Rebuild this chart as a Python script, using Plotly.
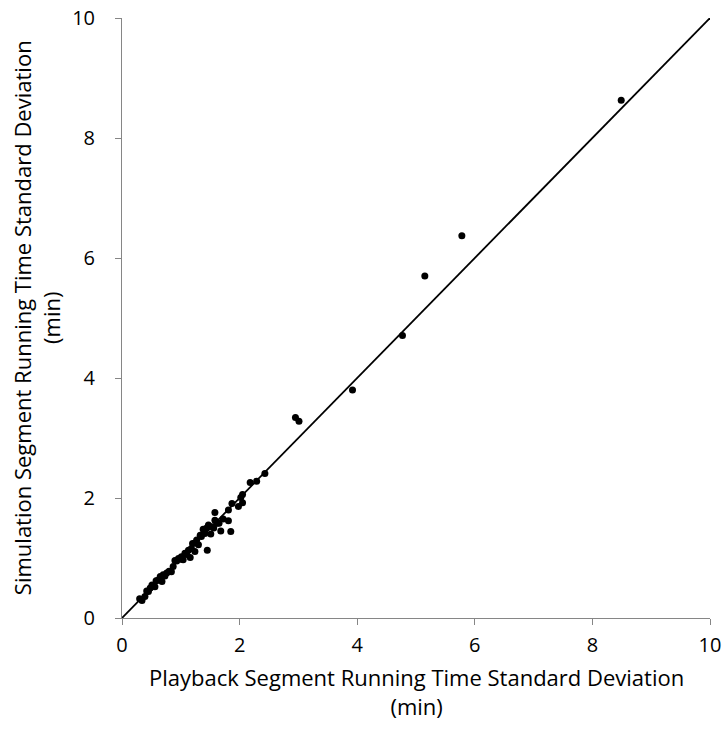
import plotly.graph_objects as go

# Playback vs simulation segment running time standard deviation (min)
playback_sd = [
    8.49, 5.78, 5.15, 4.77, 3.92, 2.95, 3.01, 2.43, 2.29, 2.18, 2.05, 2.02, 2.05,
    1.98, 1.87, 1.81, 1.58, 1.81, 1.85, 1.68, 1.65, 1.58, 1.53, 1.44, 1.38, 1.51,
    1.41, 1.27, 1.24, 1.30, 1.45, 1.18, 1.13, 1.24, 1.07, 1.16, 1.01, 0.96, 0.90,
    1.04, 0.87, 0.84, 0.76, 0.70, 0.65, 0.61, 0.68, 0.51, 0.48, 0.56, 0.45, 0.39,
    0.34, 1.47, 1.62, 1.35, 1.33, 1.20, 1.10, 0.93, 0.80, 0.58, 0.42, 0.30, 1.56,
    1.72, 1.40, 0.73, 1.00,
]
simulation_sd = [
    8.63, 6.37, 5.70, 4.71, 3.80, 3.34, 3.28, 2.41, 2.28, 2.26, 2.06, 2.01, 1.92,
    1.86, 1.91, 1.80, 1.76, 1.62, 1.44, 1.45, 1.58, 1.63, 1.52, 1.50, 1.48, 1.40,
    1.41, 1.30, 1.25, 1.22, 1.13, 1.16, 1.13, 1.11, 1.08, 1.01, 1.02, 0.99, 0.96,
    0.97, 0.86, 0.77, 0.75, 0.72, 0.69, 0.63, 0.61, 0.55, 0.50, 0.52, 0.44, 0.36,
    0.29, 1.55, 1.58, 1.36, 1.38, 1.24, 1.06, 0.95, 0.78, 0.62, 0.45, 0.32, 1.50,
    1.65, 1.46, 0.70, 0.98,
]

# Equality (y = x) reference line
line_x = [0, 10]
line_y = [0, 10]

tick_vals = [0, 2, 4, 6, 8, 10]
tick_text = ["0", "2", "4", "6", "8", "10"]

x_title = "Playback Segment Running Time Standard Deviation<br>(min)"
y_title = "Simulation Segment Running Time Standard Deviation<br>(min)"

axis_color = "#868686"
font_family = "'Open Sans', sans-serif"

fig = go.Figure()
fig.add_trace(go.Scatter(
    x=line_x, y=line_y, mode="lines",
    line=dict(color="black", width=1.8),
    hoverinfo="skip", showlegend=False,
))
fig.add_trace(go.Scatter(
    x=playback_sd, y=simulation_sd, mode="markers",
    marker=dict(color="black", size=7),
    showlegend=False,
))

axis_common = dict(
    range=[0, 10], tickvals=tick_vals, ticktext=tick_text,
    showgrid=False, zeroline=False, showline=True, linecolor=axis_color,
    linewidth=1, ticks="outside", ticklen=6, tickcolor=axis_color,
    tickfont=dict(size=20, color="black", family=font_family),
    automargin=False,
)

fig.update_layout(
    width=727, height=738,
    margin=dict(l=122, r=17, t=18, b=120),
    paper_bgcolor="white", plot_bgcolor="white",
    font=dict(family=font_family, color="black"),
    xaxis=dict(**axis_common, ticklabelstandoff=3),
    yaxis=dict(**axis_common, ticklabelstandoff=16),
    annotations=[
        dict(text=x_title, xref="paper", yref="paper", x=0.5, y=-0.122,
             xanchor="center", yanchor="middle", showarrow=False,
             font=dict(size=22, family=font_family, color="black")),
        dict(text=y_title, xref="paper", yref="paper", x=-0.146, y=0.5,
             xanchor="center", yanchor="middle", showarrow=False, textangle=-90,
             font=dict(size=22, family=font_family, color="black")),
    ],
)

fig.write_html("out.html")
